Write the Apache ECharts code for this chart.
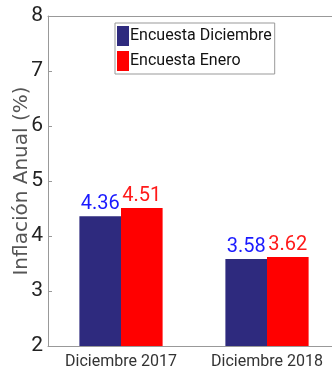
<!DOCTYPE html>
<html>
<head>
<meta charset="utf-8">
<script src="https://cdn.jsdelivr.net/npm/echarts@6/dist/echarts.min.js"></script>
<style>
  html, body { margin: 0; padding: 0; background: #fff; }
  #chart { width: 332px; height: 379px; }
</style>
</head>
<body>
<div id="chart"></div>
<script>
// datos
const categorias = ['Diciembre 2017', 'Diciembre 2018']
const encuestaDiciembre = [4.36, 3.58]
const encuestaEnero = [4.51, 3.62]
const nombres = ['Encuesta Diciembre', 'Encuesta Enero']

const narrow = "Roboto, 'Liberation Sans', sans-serif"
const azul = '#2e2a7e'
const rojo = '#ff0000'

const myChart = echarts.init(document.getElementById('chart'))

const option = {
  animation: false,
  grid: {
    left: 48,
    top: 16,
    bottom: 33,
    right: -8,
    outerBoundsMode: 'none',
    containLabel: false
  },
  legend: {
    orient: 'vertical',
    left: 115,
    top: 23,
    padding: [3, 3, 3, 2],
    itemGap: 5,
    itemWidth: 12,
    itemHeight: 20,
    icon: 'rect',
    borderColor: '#999',
    borderWidth: 1,
    backgroundColor: '#fff',
    textStyle: {
      fontFamily: narrow,
      fontSize: 16,
      color: '#111',
      padding: [0, 0, 0, -4]
    },
    data: nombres
  },
  xAxis: [
    {
      type: 'category',
      data: categorias,
      axisLine: { lineStyle: { color: '#999' } },
      axisTick: { inside: true, alignWithLabel: true, length: 4, lineStyle: { color: '#999' } },
      axisLabel: { interval: 0, hideOverlap: false, fontFamily: narrow, fontSize: 16, color: '#333', margin: 8 }
    },
    {
      // borde superior tipo matlab
      type: 'category',
      position: 'top',
      data: categorias,
      axisLine: { lineStyle: { color: '#999' } },
      axisTick: { inside: true, alignWithLabel: true, length: 4, lineStyle: { color: '#999' } },
      axisLabel: { show: false }
    }
  ],
  yAxis: {
    type: 'value',
    min: 2,
    max: 8,
    interval: 1,
    name: 'Inflación Anual (%)',
    nameLocation: 'middle',
    nameGap: 16,
    nameMoveOverlap: false,
    nameTextStyle: {
      fontFamily: "'DejaVu Sans', sans-serif",
      fontSize: 20,
      color: '#555'
    },
    axisLine: { show: true, lineStyle: { color: '#999' } },
    axisTick: { show: true, inside: true, length: 4, lineStyle: { color: '#999' } },
    splitLine: { show: false },
    axisLabel: { fontFamily: narrow, fontSize: 21, color: '#222', margin: 5 }
  },
  series: [
    {
      name: nombres[0],
      type: 'bar',
      data: encuestaDiciembre,
      itemStyle: { color: azul },
      barGap: '0%',
      barCategoryGap: '43%',
      label: {
        show: true,
        position: 'top',
        distance: 2,
        fontFamily: narrow,
        fontSize: 20,
        color: '#1a1aff'
      }
    },
    {
      name: nombres[1],
      type: 'bar',
      data: encuestaEnero,
      itemStyle: { color: rojo },
      barGap: '0%',
      barCategoryGap: '43%',
      label: {
        show: true,
        position: 'top',
        distance: 2,
        fontFamily: narrow,
        fontSize: 20,
        color: '#ff1a1a'
      }
    }
  ]
}

myChart.setOption(option)
</script>
</body>
</html>
